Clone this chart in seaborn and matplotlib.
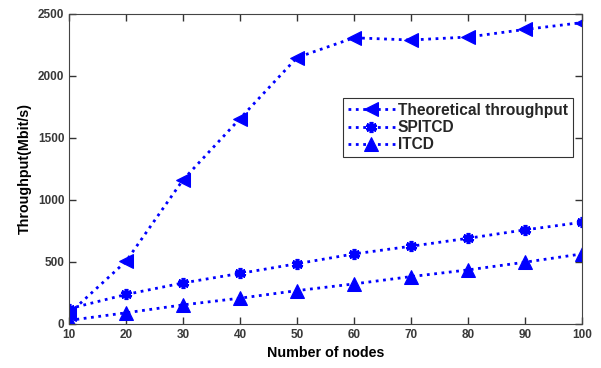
import matplotlib
matplotlib.use("Agg")
import matplotlib.pyplot as plt
import seaborn as sns

nodes = [10, 20, 30, 40, 50, 60, 70, 80, 90, 100]
theoretical = [83, 505, 1162, 1656, 2148, 2308, 2290, 2314, 2375, 2430]
spitcd = [122, 237, 330, 407, 485, 564, 626, 690, 758, 819]
itcd = [28, 89, 153, 207, 268, 322, 381, 435, 497, 564]

sns.set_style("ticks", {'xtick.direction': 'in', 'ytick.direction': 'in'})
plt.rcParams['font.family'] = ['Liberation Sans', 'DejaVu Sans']
plt.rcParams['font.weight'] = 'bold'
plt.rcParams['xtick.major.size'] = 5
plt.rcParams['ytick.major.size'] = 5

fig = plt.figure(figsize=(6.01, 3.68), dpi=100)
ax = fig.add_axes([0.115, 0.12, 0.853, 0.842])

blue = '#0000ff'
common = dict(color=blue, linestyle=':', linewidth=2.0, ax=ax)
sns.lineplot(x=nodes, y=theoretical, marker='<', markersize=10,
             markeredgecolor=blue, label='Theoretical throughput', **common)
sns.lineplot(x=nodes, y=spitcd, marker=(6, 2, 0), markersize=8,
             markeredgewidth=2.6, markeredgecolor=blue, label='SPITCD', **common)
sns.lineplot(x=nodes, y=itcd, marker='^', markersize=10,
             markeredgecolor=blue, label='ITCD', **common)

ax.set_xlim(10, 100)
ax.set_ylim(0, 2500)
ax.set_xticks(nodes)
ax.set_yticks([0, 500, 1000, 1500, 2000, 2500])
ax.set_xlabel('Number of nodes', fontsize=10.3, fontweight='bold', color='black')
ax.set_ylabel('Throughput(Mbit/s)', fontsize=10.3, fontweight='bold', color='black')
ax.tick_params(which='major', direction='in', length=5, width=1,
               color='#333333', labelcolor='#383838', labelsize=8.5,
               top=True, right=True, bottom=True, left=True)
for lab in ax.get_xticklabels() + ax.get_yticklabels():
    lab.set_fontweight('bold')
for s in ax.spines.values():
    s.set_visible(True)
    s.set_color('#444444')
    s.set_linewidth(0.8)

leg = ax.legend(loc='upper right', bbox_to_anchor=(0.982, 0.729),
                prop={'weight': 'bold', 'size': 11.2}, frameon=True,
                fancybox=False, handlelength=3.0, handletextpad=0.2,
                borderpad=0.3, labelspacing=0.15, borderaxespad=0)
leg.get_frame().set_edgecolor('black')
leg.get_frame().set_linewidth(0.8)

fig.savefig('out.png', dpi=100)
